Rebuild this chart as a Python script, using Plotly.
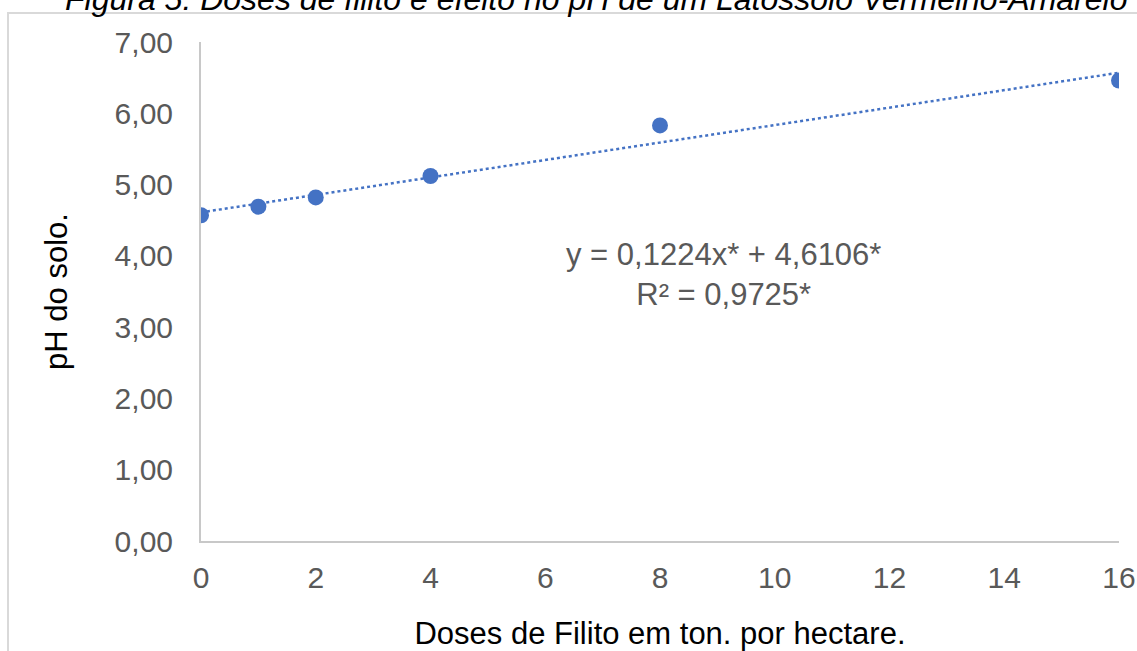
import plotly.graph_objects as go

doses = [0, 1, 2, 4, 8, 16]
ph = [4.57, 4.69, 4.82, 5.12, 5.83, 6.46]
slope = 0.1224
intercept = 4.6106
x_ticks = [0, 2, 4, 6, 8, 10, 12, 14, 16]
y_ticks = [0, 1, 2, 3, 4, 5, 6, 7]
y_tick_labels = ["0,00", "1,00", "2,00", "3,00", "4,00", "5,00", "6,00", "7,00"]
title_text = "Figura 5: Doses de filito e efeito no pH de um Latossolo Vermelho-Amarelo"
eq_text = "y = 0,1224x* + 4,6106*<br>R² = 0,9725*"

trend_x = [min(doses), max(doses)]
trend_y = [slope * v + intercept for v in trend_x]

BLUE = "#4472C4"
FONT = "Liberation Sans, Arial, sans-serif"

fig = go.Figure()
fig.add_trace(go.Scatter(x=trend_x, y=trend_y, mode="lines",
                         line=dict(color=BLUE, width=2.5, dash="dot"),
                         hoverinfo="skip", showlegend=False))
fig.add_trace(go.Scatter(x=doses, y=ph, mode="markers",
                         marker=dict(color=BLUE, size=16),
                         showlegend=False))

W, H = 1137, 651
L, R, T, B = 201, 18, 42, 110
pw = W - L - R
ph_ = H - T - B


def px_x(p):
    return (p - L) / pw


def px_y(p):
    return (H - B - p) / ph_


fig.update_layout(
    width=W, height=H,
    margin=dict(l=L, r=R, t=T, b=B),
    paper_bgcolor="white", plot_bgcolor="white",
    font=dict(family=FONT, size=30, color="#595959"),
    xaxis=dict(range=[0, 16], tickvals=x_ticks, showgrid=False, zeroline=False,
               showline=True, linecolor="#C8C8C8", linewidth=2, ticks="",
               automargin=False, ticklabelstandoff=9,
               tickfont=dict(size=30, color="#595959"),
               title=dict(text="Doses de Filito em ton. por hectare.", standoff=32,
                          font=dict(size=31, color="#000000"))),
    yaxis=dict(range=[0, 7], tickvals=y_ticks, ticktext=y_tick_labels,
               showgrid=False, zeroline=False, showline=True, linecolor="#C8C8C8",
               linewidth=2, ticks="", ticklabelstandoff=20, automargin=False,
               tickfont=dict(size=30, color="#595959"),
               title=dict(text="pH do solo.", standoff=38,
                          font=dict(size=31, color="#000000"))),
    annotations=[
        dict(text=eq_text, x=9.1, y=3.74, xref="x", yref="y",
             showarrow=False, align="center",
             font=dict(size=31, color="#595959")),
        dict(text="<i>" + title_text + "</i>", x=px_x(596), y=px_y(-1),
             xref="paper", yref="paper", xanchor="center", yanchor="middle",
             showarrow=False, font=dict(size=32, color="#000000")),
    ],
    shapes=[dict(type="rect", xref="paper", yref="paper", layer="below",
                 x0=px_x(8), x1=px_x(W + 5),
                 y0=px_y(H + 5), y1=px_y(13),
                 line=dict(color="#D9D9D9", width=2), fillcolor="rgba(0,0,0,0)")],
)

fig.write_html("out.html")
